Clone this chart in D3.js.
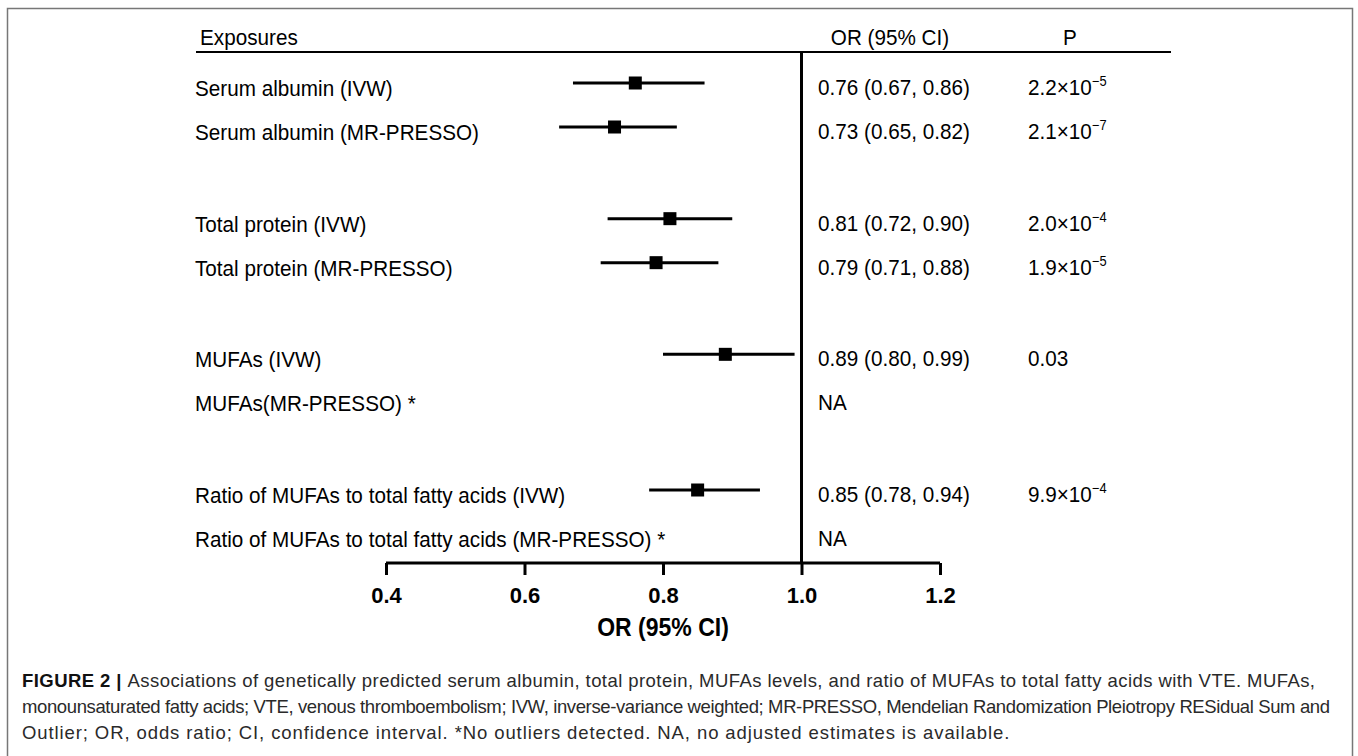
<!DOCTYPE html>
<html>
<head>
<meta charset="utf-8">
<script src="https://cdn.jsdelivr.net/npm/d3@7"></script>
<style>
  body { margin: 0; background: #fff; }
  svg { display: block; }
  .narrow { font-family: "Liberation Sans", Arial, sans-serif; }
</style>
</head>
<body>
<script>
// chart data
var exposures = [
  "Serum albumin (IVW)", "Serum albumin (MR-PRESSO)",
  "Total protein (IVW)", "Total protein (MR-PRESSO)",
  "MUFAs (IVW)", "MUFAs(MR-PRESSO) *",
  "Ratio of MUFAs to total fatty acids (IVW)", "Ratio of MUFAs to total fatty acids (MR-PRESSO) *"
];
var groups = [0, 0, 1, 1, 2, 2, 3, 3];
var orValues = [0.76, 0.73, 0.81, 0.79, 0.89, null, 0.85, null];
var ciLow = [0.67, 0.65, 0.72, 0.71, 0.80, null, 0.78, null];
var ciHigh = [0.86, 0.82, 0.90, 0.88, 0.99, null, 0.94, null];
var orLabels = ["0.76 (0.67, 0.86)", "0.73 (0.65, 0.82)", "0.81 (0.72, 0.90)", "0.79 (0.71, 0.88)",
  "0.89 (0.80, 0.99)", "NA", "0.85 (0.78, 0.94)", "NA"];
// p values: mantissa and exponent (null exponent = plain number)
var pMantissa = ["2.2", "2.1", "2.0", "1.9", "0.03", null, "9.9", null];
var pExponent = ["\u22125", "\u22127", "\u22124", "\u22125", null, null, "\u22124", null];
var xTicks = [0.4, 0.6, 0.8, 1.0, 1.2];
var captionLines = [
  "Associations of genetically predicted serum albumin, total protein, MUFAs levels, and ratio of MUFAs to total fatty acids with VTE. MUFAs,",
  "monounsaturated fatty acids; VTE, venous thromboembolism; IVW, inverse-variance weighted; MR-PRESSO, Mendelian Randomization Pleiotropy RESidual Sum and",
  "Outlier; OR, odds ratio; CI, confidence interval. *No outliers detected. NA, no adjusted estimates is available."
];

var W = 1358, H = 756;
var SX = 0.92; // horizontal squeeze to mimic the condensed face
var FS = 22.5;
var svg = d3.select("body").append("svg")
    .attr("width", W)
    .attr("height", H);

// condensed text helper
function narrowText(sel, px, py) {
  return sel.append("text")
      .attr("class", "narrow")
      .attr("transform", "translate(" + px + "," + py + ") scale(" + SX + ",1)");
}

// outer frame (open at the bottom of the picture)
svg.append("rect")
    .attr("x", 7.5).attr("y", 8.5)
    .attr("width", 1345).attr("height", 800)
    .attr("fill", "none")
    .attr("stroke", "#777")
    .attr("stroke-width", 1.5);

// scales
var x = d3.scaleLinear().domain([0.4, 1.2]).range([386, 940]);
var yGroup = d3.scaleLinear().domain([0, 3]).range([83, 490]);
function rowY(i) { return yGroup(groups[i]) + (i % 2) * 44; }
var axisY = 563;

// header
narrowText(svg, 200, 45).attr("font-size", FS).text("Exposures");
narrowText(svg, 890, 45).attr("font-size", FS).attr("text-anchor", "middle").text("OR (95% CI)");
narrowText(svg, 1070, 45).attr("font-size", FS).attr("text-anchor", "middle").text("P");
svg.append("line")
    .attr("x1", 196).attr("x2", 1171)
    .attr("y1", 52).attr("y2", 52)
    .attr("stroke", "#000").attr("stroke-width", 2);

// reference line at OR = 1
svg.append("line")
    .attr("x1", x(1)).attr("x2", x(1))
    .attr("y1", 52).attr("y2", axisY)
    .attr("stroke", "#000").attr("stroke-width", 3);

var idx = d3.range(exposures.length);

// row labels
idx.forEach(function (i) {
  narrowText(svg, 195, rowY(i) + 13).attr("font-size", FS).text(exposures[i]);
});

// CI lines
var est = idx.filter(function (i) { return orValues[i] != null; });
svg.selectAll(".ci")
    .data(est)
    .enter().append("line")
    .attr("class", "ci")
    .attr("x1", function (i) { return x(ciLow[i]); })
    .attr("x2", function (i) { return x(ciHigh[i]); })
    .attr("y1", rowY).attr("y2", rowY)
    .attr("stroke", "#000").attr("stroke-width", 3);

// point estimates
var sq = 13;
svg.selectAll(".pt")
    .data(est)
    .enter().append("rect")
    .attr("class", "pt")
    .attr("x", function (i) { return x(orValues[i]) - sq / 2; })
    .attr("y", function (i) { return rowY(i) - sq / 2; })
    .attr("width", sq).attr("height", sq)
    .attr("fill", "#000");

// OR (95% CI) and P columns
idx.forEach(function (i) {
  narrowText(svg, 818, rowY(i) + 12).attr("font-size", FS).text(orLabels[i]);
  if (pMantissa[i] != null) {
    var t = narrowText(svg, 1028, rowY(i) + 12).attr("font-size", FS);
    t.append("tspan").text(pExponent[i] ? pMantissa[i] + "\u00d710" : pMantissa[i]);
    if (pExponent[i]) {
      t.append("tspan").attr("dy", -9).attr("font-size", 14).text(pExponent[i]);
    }
  }
});

// x axis
var axis = svg.append("g")
    .attr("transform", "translate(0," + axisY + ")")
    .call(d3.axisBottom(x).tickValues(xTicks).tickFormat(d3.format(".1f")).tickSize(12).tickPadding(12));
axis.select(".domain").attr("stroke-width", 3).attr("d", "M" + x(0.4) + ",0H" + x(1.2));
axis.selectAll(".tick line").attr("stroke-width", 3);
axis.selectAll(".tick text")
    .attr("font-family", "'Liberation Sans', Arial, sans-serif")
    .attr("font-weight", "bold")
    .attr("font-size", 22)
    .attr("fill", "#000");

narrowText(svg, x(0.8), 636)
    .attr("text-anchor", "middle")
    .attr("font-size", 25)
    .attr("font-weight", "bold")
    .text("OR (95% CI)");

// caption
var cap = svg.append("g")
    .attr("font-family", "'Liberation Sans', Arial, sans-serif")
    .attr("font-size", 18.5)
    .attr("fill", "#2a2a2a");
var capWidths = [1293, 1308, null];
captionLines.forEach(function (line, k) {
  var t = cap.append("text")
      .attr("x", 22)
      .attr("y", 687 + k * 26);
  if (capWidths[k]) {
    t.attr("textLength", capWidths[k]).attr("lengthAdjust", "spacing");
  } else {
    t.attr("letter-spacing", 0.9);
  }
  if (k === 0) {
    t.append("tspan").attr("font-weight", "bold").attr("fill", "#111").text("FIGURE 2 | ");
  }
  t.append("tspan").text(line);
});
</script>
</body>
</html>
